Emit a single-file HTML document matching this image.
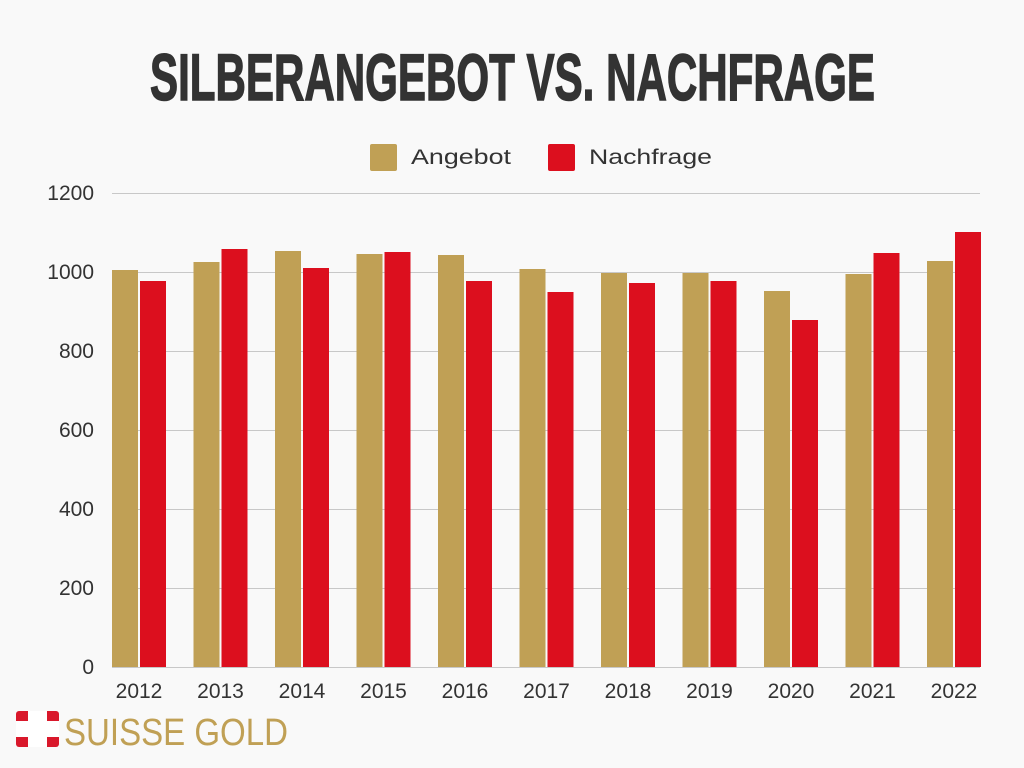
<!DOCTYPE html>
<html><head><meta charset="utf-8"><style>
html,body{margin:0;padding:0;background:#f9f9f9;}
svg{display:block}
</style></head><body>
<svg width="1024" height="768" xmlns="http://www.w3.org/2000/svg" font-family="Liberation Sans, sans-serif">
<rect width="1024" height="768" fill="#f9f9f9"/>
<text x="150" y="100" font-size="66" font-weight="bold" fill="#333" stroke="#333" stroke-width="1.5" textLength="725" lengthAdjust="spacingAndGlyphs">SILBERANGEBOT VS. NACHFRAGE</text>
<rect x="370" y="144" width="27" height="27" rx="2" fill="#c0a055"/>
<text x="411" y="164" font-size="21" fill="#333" textLength="100" lengthAdjust="spacingAndGlyphs">Angebot</text>
<rect x="548" y="144" width="27" height="27" rx="2" fill="#dc0f1e"/>
<text x="589" y="164" font-size="21" fill="#333" textLength="123" lengthAdjust="spacingAndGlyphs">Nachfrage</text>
<g stroke="#c8c8c8" stroke-width="1">
<line x1="112" x2="980" y1="193.5" y2="193.5"/>
<line x1="112" x2="980" y1="272.5" y2="272.5"/>
<line x1="112" x2="980" y1="351.5" y2="351.5"/>
<line x1="112" x2="980" y1="430.5" y2="430.5"/>
<line x1="112" x2="980" y1="509.5" y2="509.5"/>
<line x1="112" x2="980" y1="588.5" y2="588.5"/>
<line x1="112" x2="980" y1="667.5" y2="667.5"/>
</g>
<g font-size="21" fill="#333" text-anchor="end">
<text x="94" y="200">1200</text>
<text x="94" y="279">1000</text>
<text x="94" y="358">800</text>
<text x="94" y="437">600</text>
<text x="94" y="516">400</text>
<text x="94" y="595">200</text>
<text x="94" y="674">0</text>
</g>
<g fill="#c0a055">
<rect x="112" y="270" width="26" height="397"/>
<rect x="193.5" y="262" width="26" height="405"/>
<rect x="275" y="251" width="26" height="416"/>
<rect x="356.5" y="254" width="26" height="413"/>
<rect x="438" y="255" width="26" height="412"/>
<rect x="519.5" y="269" width="26" height="398"/>
<rect x="601" y="273" width="26" height="394"/>
<rect x="682.5" y="273" width="26" height="394"/>
<rect x="764" y="291" width="26" height="376"/>
<rect x="845.5" y="274" width="26" height="393"/>
<rect x="927" y="261" width="26" height="406"/>
</g>
<g fill="#dc0f1e">
<rect x="140" y="281" width="26" height="386"/>
<rect x="221.5" y="249" width="26" height="418"/>
<rect x="303" y="268" width="26" height="399"/>
<rect x="384.5" y="252" width="26" height="415"/>
<rect x="466" y="281" width="26" height="386"/>
<rect x="547.5" y="292" width="26" height="375"/>
<rect x="629" y="283" width="26" height="384"/>
<rect x="710.5" y="281" width="26" height="386"/>
<rect x="792" y="320" width="26" height="347"/>
<rect x="873.5" y="253" width="26" height="414"/>
<rect x="955" y="232" width="26" height="435"/>
</g>
<g font-size="21" fill="#333" text-anchor="middle">
<text x="139" y="698">2012</text>
<text x="220.5" y="698">2013</text>
<text x="302" y="698">2014</text>
<text x="383.5" y="698">2015</text>
<text x="465" y="698">2016</text>
<text x="546.5" y="698">2017</text>
<text x="628" y="698">2018</text>
<text x="709.5" y="698">2019</text>
<text x="791" y="698">2020</text>
<text x="872.5" y="698">2021</text>
<text x="954" y="698">2022</text>
</g>
<rect x="16" y="711" width="43" height="36" rx="3" fill="#d9182b"/>
<rect x="28" y="711" width="19" height="36" fill="#fff"/>
<rect x="16" y="721" width="43" height="16" fill="#fff"/>
<text x="64" y="745" font-size="38" fill="#c0a055" textLength="224" lengthAdjust="spacingAndGlyphs">SUISSE GOLD</text>
</svg>
</body></html>
